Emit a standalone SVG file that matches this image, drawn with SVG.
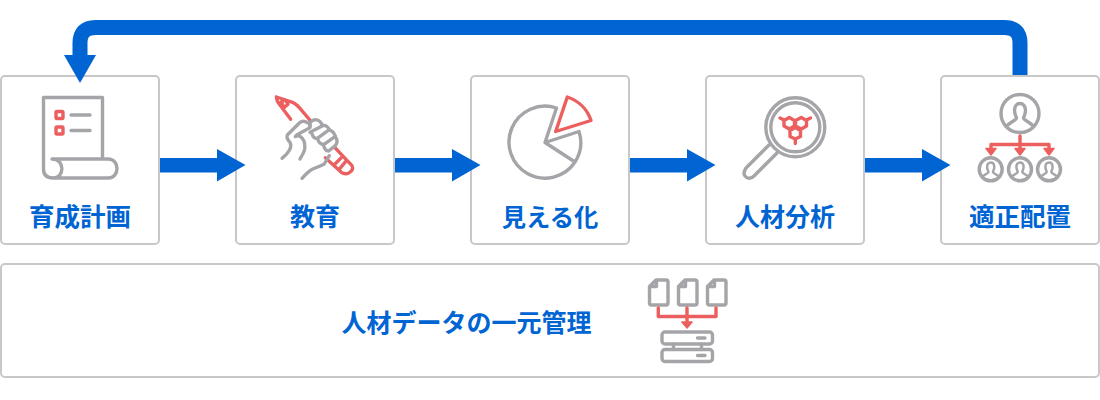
<svg xmlns="http://www.w3.org/2000/svg" width="1100" height="400" viewBox="0 0 1100 400">
<style>
.box{fill:#fff;stroke:#c8c8c8;stroke-width:2}
.lbl{font-family:"Noto Sans CJK JP","Noto Sans",sans-serif;font-weight:700;font-size:25px;fill:#0064d2;text-anchor:middle}
.g{fill:none;stroke:#a5a5a9;stroke-width:3.400;stroke-linecap:round;stroke-linejoin:round}
.r{fill:none;stroke:#eb5f5f;stroke-width:3.400;stroke-linecap:round;stroke-linejoin:round}
.rf{fill:#eb5f5f;stroke:#eb5f5f;stroke-width:1.500;stroke-linejoin:round}
.flow{fill:#0064d2}
</style>
<defs>
<path id="arw" d="M160 158H217V149L245.500 165L217 181.500V172.500H160Z"/>
<path id="person" d="M-5.500 -3.500C-5.500 -8 -3 -10.500 0 -10.500C3 -10.500 5.500 -8 5.500 -3.500C5.500 0 4 2 3.500 4C3.500 6 9 7.500 13.500 12M-5.500 -3.500C-5.500 0 -4 2 -3.500 4C-3.500 6 -9 7.500 -13.500 12"/>
<path id="doc" d="M656 280H666Q668 280 668 282V303Q668 305 666 305H651.500Q649.500 305 649.500 303V286.500ZM656.500 281V286.500H650.500"/>
</defs>
<g id="connectors">
<path d="M1020 76V43Q1020 27.500 1004.500 27.500H95.500Q80 27.500 80 43V56" fill="none" stroke="#0064d2" stroke-width="15"/>
</g>
<g id="node-plan">
<rect class="box" x="1" y="76" width="158" height="168" rx="4"/>
<path class="g" d="M102.500 159V97.500H43.500V169Q43.500 178 53 178H108C120 178 120 159 108 159H52C65 159 65 178 53 178"/>
<rect class="r" x="56" y="111.500" width="7" height="7" rx="1"/>
<rect class="r" x="56" y="127" width="7" height="7" rx="1"/>
<path class="g" d="M71 115H90M71 130.500H90"/>
<text class="lbl" x="80" y="226" style="font-size:25.500px">育成計画</text>
</g>
<g id="node-edu">
<rect class="box" x="236" y="76" width="158" height="168" rx="4"/>
<g transform="translate(260 85) scale(.3333)">
<path class="r" style="stroke-width:10" d="M49 36L100 53Q110 58 118 68L152 108M49 36Q50 48 58 58L92 103M64 50L76 45L84 58L72 68ZM224 187L276 242Q282 255 268 263Q255 270 244 262L196 218M225 237L248 214M240 250L260 226"/>
<g class="g" style="stroke-width:10">
<path d="M66 220Q82 208 88 196Q96 184 90 172Q78 160 82 150L118 114Q132 102 150 118L150 128L110 150L106 155Q120 146 132 168Q138 190 130 204L120 222"/>
<path d="M150 124Q146 108 166 104Q180 104 188 122L150 142"/>
<path d="M184 122Q200 118 208 134L172 160Q160 162 156 146"/>
<path d="M208 134Q222 140 226 154L192 178Q178 180 172 160"/>
<path d="M226 154Q236 170 226 182L206 198Q194 198 190 178"/>
<path d="M126 280Q146 258 158 252Q180 244 192 238L208 212"/>
</g>
</g>
<text class="lbl" x="315" y="226">教育</text>
</g>
<g id="node-vis">
<rect class="box" x="471" y="76" width="158" height="168" rx="4"/>
<path class="g" d="M545 142.500L556.500 108A36 36 0 1 0 575 162ZM545 142.500L579 131.500A36 36 0 0 1 575 162"/>
<path class="r" d="M555.700 131.500L567.300 97A37 37 0 0 1 591 120.500Z"/>
<text class="lbl" x="550" y="226" style="font-size:24.300px">見える化</text>
</g>
<g id="node-ana">
<rect class="box" x="706" y="76" width="158" height="168" rx="4"/>
<circle class="g" cx="795.300" cy="127.300" r="29.500"/>
<circle class="g" cx="795.300" cy="127.300" r="24.500"/>
<path class="g" d="M769 145L746 168Q742 174 746 177Q750 180 754 176L777 153"/>
<g class="r">
<path d="M789.300 117.500L794.500 120.500V126L789.300 129L784 126V120.500ZM801.300 117.500L806.500 120.500V126L801.300 129L795.500 126V120.500ZM795.300 127.500L800.500 130.500V136.500L795.300 139L790 136.500V130.500Z"/>
<path d="M784 120L780 118M806.500 120L810.500 118M795.300 139V143.500"/>
</g>
<text class="lbl" x="785" y="226">人材分析</text>
</g>
<g id="node-place">
<rect class="box" x="941" y="76" width="158" height="168" rx="4"/>
<circle class="g" cx="1020" cy="113.500" r="19"/>
<use href="#person" class="g" transform="translate(1020 114)"/>
<g transform="translate(990.700 169.300)"><circle class="g" r="11.500"/><use href="#person" class="g" style="stroke-width:3.800" transform="scale(.65)"/></g>
<g transform="translate(1020 169.300)"><circle class="g" r="11.500"/><use href="#person" class="g" style="stroke-width:3.800" transform="scale(.65)"/></g>
<g transform="translate(1049 169.300)"><circle class="g" r="11.500"/><use href="#person" class="g" style="stroke-width:3.800" transform="scale(.65)"/></g>
<path class="r" d="M1020 136V150M991 150V144.500H1049V150"/>
<path class="rf" d="M986 148.500H996L991 155ZM1015 148.500H1025L1020 155ZM1044 148.500H1054L1049 155Z"/>
<text class="lbl" x="1020" y="226" style="font-size:25.500px">適正配置</text>
</g>
<g id="arrows" class="flow">
<use href="#arw"/>
<use href="#arw" x="235"/>
<use href="#arw" x="470"/>
<use href="#arw" x="705"/>
<path d="M64 55H96L80 83Z"/>
</g>
<g id="node-data">
<rect class="box" x="1" y="264" width="1098" height="113" rx="4"/>
<text class="lbl" x="466.500" y="332">人材データの一元管理</text>
<use href="#doc" class="g"/>
<use href="#doc" class="g" x="29"/>
<use href="#doc" class="g" x="58"/>
<path class="r" d="M658.300 308V316.500H716V308M687 308V325"/>
<path class="rf" d="M682 322H692L687 328Z"/>
<rect class="g" x="662" y="332" width="50.500" height="12" rx="3"/>
<rect class="g" x="662" y="349.500" width="50.500" height="12" rx="3"/>
<path class="g" d="M673.500 344V349.500M701.500 344V349.500M697.500 338H705M697.500 355.500H705"/>
</g>
</svg>
